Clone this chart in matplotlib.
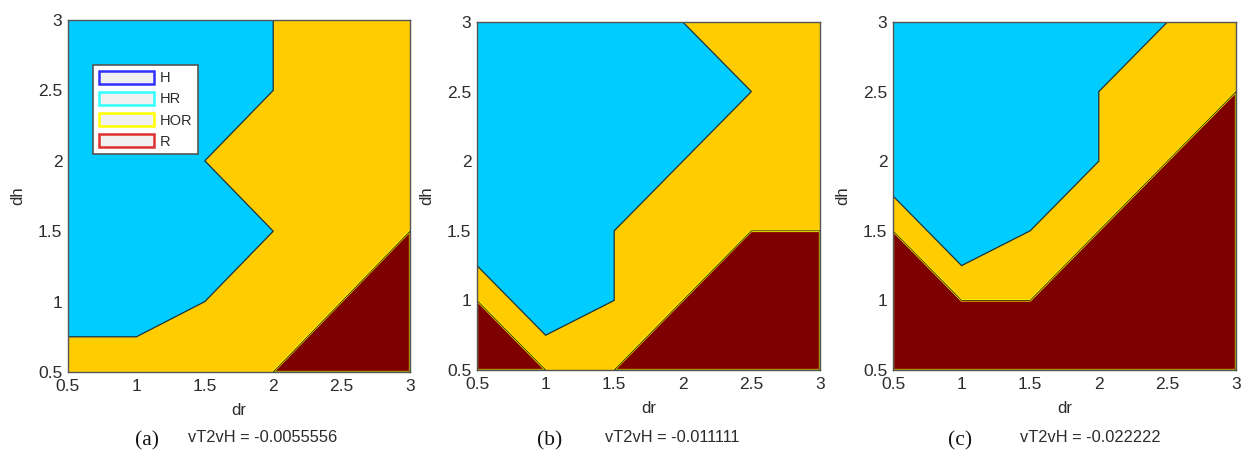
import matplotlib.pyplot as plt
from matplotlib.patches import Patch

plt.rcParams["font.family"] = ["Liberation Sans", "DejaVu Sans"]

# grid of the parameter sweep
dr_ticks = [0.5, 1, 1.5, 2, 2.5, 3]
dh_ticks = [0.5, 1, 1.5, 2, 2.5, 3]
tick_labels = ["0.5", "1", "1.5", "2", "2.5", "3"]

classes = ["H", "HR", "HOR", "R"]
fill_colors = {"HR": "#00ccff", "HOR": "#ffcc00", "R": "#7f0000"}
legend_edges = ["#3030ff", "#30ffff", "#ffff00", "#e03030"]

panel_tags = ["(a)", "(b)", "(c)"]
vT2vH = ["-0.0055556", "-0.011111", "-0.022222"]

# region outlines in (dr, dh) for each panel; HOR fills the rest of the domain
hr_a_x = [0.5, 2.0, 2.0, 1.5, 2.0, 1.75, 1.5, 1.0, 0.5]
hr_a_y = [3.0, 3.0, 2.5, 2.0, 1.5, 1.25, 1.0, 0.75, 0.75]
r_a_x = [2.0, 3.0, 3.0]
r_a_y = [0.5, 0.5, 1.5]

hr_b_x = [0.5, 2.0, 2.5, 1.5, 1.5, 1.0, 0.5]
hr_b_y = [3.0, 3.0, 2.5, 1.5, 1.0, 0.75, 1.25]
r_b1_x = [0.5, 1.0, 0.5]
r_b1_y = [0.5, 0.5, 1.0]
r_b2_x = [1.5, 3.0, 3.0, 2.5]
r_b2_y = [0.5, 0.5, 1.5, 1.5]

hr_c_x = [0.5, 2.5, 2.25, 2.0, 2.0, 1.5, 1.0, 0.5]
hr_c_y = [3.0, 3.0, 2.75, 2.5, 2.0, 1.5, 1.25, 1.75]
r_c_x = [0.5, 3.0, 3.0, 1.5, 1.0, 0.5]
r_c_y = [0.5, 0.5, 2.5, 1.0, 1.0, 1.5]

panels = [
    {"hr": [(hr_a_x, hr_a_y)], "r": [(r_a_x, r_a_y)]},
    {"hr": [(hr_b_x, hr_b_y)], "r": [(r_b1_x, r_b1_y), (r_b2_x, r_b2_y)]},
    {"hr": [(hr_c_x, hr_c_y)], "r": [(r_c_x, r_c_y)]},
]

W, H = 1245, 457
fig = plt.figure(figsize=(W / 100, H / 100), dpi=100)

# axes boxes in pixels: left, top, right, bottom
boxes = [(68, 20, 410, 372), (477, 22, 820, 370), (893, 22, 1236, 370)]
tag_x = [147, 550, 960]
val_x = [188, 605, 1020]
txt = "#2b2b2b"

for i, (panel, box) in enumerate(zip(panels, boxes)):
    l, t, r, b = box
    ax = fig.add_axes([l / W, 1 - b / H, (r - l) / W, (b - t) / H])

    lo, hi = dr_ticks[0], dr_ticks[-1]
    ax.fill([lo, hi, hi, lo], [dh_ticks[0], dh_ticks[0], dh_ticks[-1], dh_ticks[-1]],
            color=fill_colors["HOR"], lw=0)
    for x, y in panel["hr"]:
        ax.fill(x, y, facecolor=fill_colors["HR"], edgecolor="#1a3340", lw=0.9)
    for x, y in panel["r"]:
        ax.fill(x, y, facecolor=fill_colors["R"], edgecolor="#ffff00", lw=1.6)
        ax.fill(x, y, facecolor="none", edgecolor="#302000", lw=0.6)

    ax.set_xlim(lo, hi)
    ax.set_ylim(dh_ticks[0], dh_ticks[-1])
    ax.set_xticks(dr_ticks)
    ax.set_xticklabels(tick_labels)
    ax.set_yticks(dh_ticks)
    ax.set_yticklabels(tick_labels)
    ax.tick_params(length=0, labelsize=12.5, colors=txt)
    ax.tick_params(axis="x", pad=5)
    ax.tick_params(axis="y", pad=4)
    for s in ax.spines.values():
        s.set_color("#555555")
        s.set_linewidth(1.0)

    ax.set_xlabel("dr", fontsize=12, color=txt)
    ax.xaxis.set_label_coords(0.5, -0.088)
    ax.set_ylabel("dh", fontsize=12, color=txt)
    ax.yaxis.set_label_coords(-0.125, 0.5)

    fig.text(tag_x[i] / W, 1 - 441 / H, panel_tags[i], family="Liberation Serif",
             fontsize=15.5, ha="center", va="center", color="#111111")
    fig.text(val_x[i] / W, 1 - 438 / H, f"vT2vH = {vT2vH[i]}",
             fontsize=11.8, ha="left", va="center", color=txt)

    if i == 0:
        handles = [Patch(facecolor="#f0f0f0", edgecolor=c, lw=1.8, label=k)
                   for k, c in zip(classes, legend_edges)]
        leg = ax.legend(handles=handles, loc="upper left",
                        bbox_to_anchor=(0.073, 0.872), borderaxespad=0,
                        fontsize=10.5, handlelength=3.8, handleheight=1.0,
                        labelspacing=0.45, handletextpad=0.35, borderpad=0.4,
                        fancybox=False, framealpha=1, edgecolor="#555555")
        leg.get_frame().set_linewidth(1.2)
        for t_ in leg.get_texts():
            t_.set_color(txt)

fig.savefig("out.png", dpi=100)
